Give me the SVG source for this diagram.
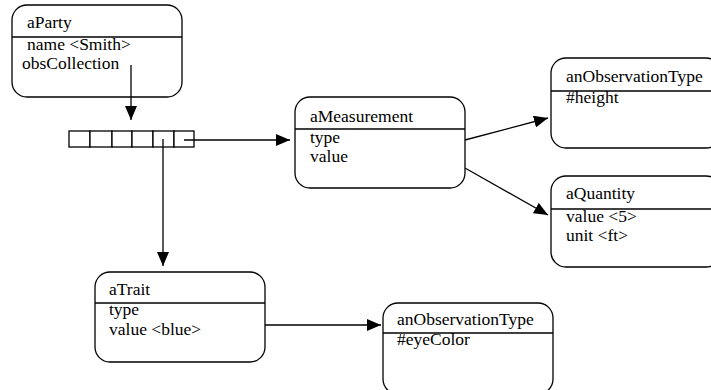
<svg xmlns="http://www.w3.org/2000/svg" width="711" height="390" viewBox="0 0 711 390">
  <style>
    .box { fill: #fff; stroke: #000; stroke-width: 1.3; }
    .div { stroke: #000; stroke-width: 1.3; }
    .cell { fill: #fff; stroke: #000; stroke-width: 1.3; }
    .conn { stroke: #000; stroke-width: 1.3; fill: none; marker-end: url(#arrow); }
    text { font-family: "Liberation Serif", "Times New Roman", serif; font-size: 17.5px; fill: #000; }
  </style>
  <defs>
    <marker id="arrow" viewBox="0 0 14 12" refX="14" refY="6" markerWidth="14" markerHeight="12" markerUnits="userSpaceOnUse" orient="auto">
      <path d="M0,0 L14,6 L0,12 Z" fill="#000"/>
    </marker>
  </defs>
  <rect width="711" height="390" fill="#fff"/>

  <g id="aParty">
    <rect class="box" x="12" y="5" width="170" height="92" rx="15" ry="15"/>
    <line class="div" x1="12" y1="37" x2="182" y2="37"/>
    <text x="27" y="28">aParty</text>
    <text x="27" y="50">name &lt;Smith&gt;</text>
    <text x="22" y="69">obsCollection</text>
  </g>

  <g id="collection">
    <rect class="cell" x="69" y="131" width="21" height="16"/>
    <rect class="cell" x="90" y="131" width="22" height="16"/>
    <rect class="cell" x="112" y="131" width="20" height="16"/>
    <rect class="cell" x="132" y="131" width="21" height="16"/>
    <rect class="cell" x="153" y="131" width="21" height="16"/>
    <rect class="cell" x="174" y="131" width="20" height="16"/>
  </g>

  <g id="aMeasurement">
    <rect class="box" x="295" y="97" width="170" height="91" rx="15" ry="15"/>
    <line class="div" x1="295" y1="129" x2="465" y2="129"/>
    <text x="310" y="122">aMeasurement</text>
    <text x="310" y="143">type</text>
    <text x="310" y="162">value</text>
  </g>

  <g id="heightType">
    <rect class="box" x="551" y="58" width="170" height="90" rx="15" ry="15"/>
    <line class="div" x1="551" y1="91" x2="721" y2="91"/>
    <text x="566" y="82">anObservationType</text>
    <text x="566" y="103">#height</text>
  </g>

  <g id="aQuantity">
    <rect class="box" x="551" y="176" width="170" height="91" rx="15" ry="15"/>
    <line class="div" x1="551" y1="209" x2="721" y2="209"/>
    <text x="566" y="199">aQuantity</text>
    <text x="566" y="222">value &lt;5&gt;</text>
    <text x="566" y="241">unit &lt;ft&gt;</text>
  </g>

  <g id="aTrait">
    <rect class="box" x="95" y="272" width="170" height="90" rx="15" ry="15"/>
    <line class="div" x1="95" y1="303" x2="265" y2="303"/>
    <text x="109" y="295">aTrait</text>
    <text x="109" y="315">type</text>
    <text x="109" y="335">value &lt;blue&gt;</text>
  </g>

  <g id="eyeColorType">
    <rect class="box" x="383" y="303" width="170" height="91" rx="15" ry="15"/>
    <line class="div" x1="383" y1="333" x2="553" y2="333"/>
    <text x="397" y="325">anObservationType</text>
    <text x="397" y="345">#eyeColor</text>
  </g>

  <g id="connectors">
    <line class="conn" x1="131" y1="65" x2="131" y2="120"/>
    <line class="conn" x1="184" y1="140" x2="290" y2="140"/>
    <line class="conn" x1="163" y1="139" x2="163" y2="266"/>
    <line class="conn" x1="465" y1="140" x2="548" y2="118"/>
    <line class="conn" x1="465" y1="168" x2="548" y2="215"/>
    <line class="conn" x1="265" y1="325" x2="381" y2="325"/>
  </g>
</svg>
